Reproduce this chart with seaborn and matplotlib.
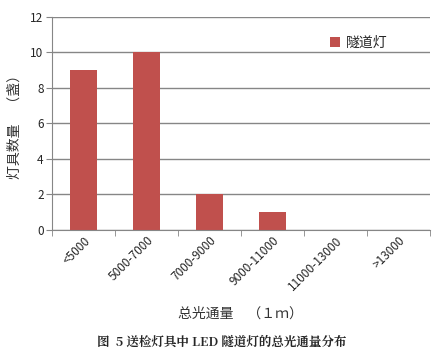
import pandas as pd
import seaborn as sns
import matplotlib.pyplot as plt

categories = ["<5000", "5000-7000", "7000-9000", "9000-11000", "11000-13000", ">13000"]
counts = [9, 10, 2, 1, 0, 0]
series_name = "隧道灯"

df = pd.DataFrame({"range": categories, "count": counts, "series": series_name})

sns.set_style("white")
plt.rcParams['font.family'] = ['Noto Sans CJK SC', 'DejaVu Sans']

fig = plt.figure(figsize=(4.44, 3.62), dpi=100)
ax = fig.add_axes([0.117, 0.365, 0.851, 0.588])

sns.barplot(data=df, x="range", y="count", hue="series", palette=["#C0504D"],
            width=0.42, ax=ax, saturation=1, linewidth=0)

ax.set_ylim(0, 12)
ax.set_yticks(range(0, 13, 2))
ax.yaxis.grid(True, color="#868686", linewidth=1)
ax.set_axisbelow(True)
for s in ["top", "right"]:
    ax.spines[s].set_visible(False)
ax.spines["left"].set_color("#868686")
ax.spines["bottom"].set_color("#868686")
ax.tick_params(axis="y", length=4, color="#868686", labelsize=8.5, pad=2, left=True)
ax.tick_params(axis="x", length=0, labelsize=8.5, pad=3)
ax.set_xticks([i + 0.5 for i in range(-1, 6)], minor=True)
ax.tick_params(axis="x", which="minor", length=4, color="#868686", bottom=True)
plt.setp(ax.get_xticklabels(), rotation=45, ha="right", rotation_mode="anchor")

ax.set_xlabel("总光通量　（１ｍ）", fontsize=10, color="#333333", labelpad=10)
ax.set_ylabel("灯具数量　（盏）", fontsize=10, color="#333333", labelpad=6)

ax.legend(loc="upper right", bbox_to_anchor=(0.92, 0.97), frameon=False, fontsize=10,
          handlelength=0.7, handleheight=0.7, handletextpad=0.4)

fig.text(0.5, 0.045, "图  5 送检灯具中 LED 隧道灯的总光通量分布",
         ha="center", fontsize=9, fontweight="bold",
         family=['Noto Serif CJK SC', 'Noto Sans CJK SC', 'DejaVu Serif'])

fig.savefig("out.png", dpi=100)
